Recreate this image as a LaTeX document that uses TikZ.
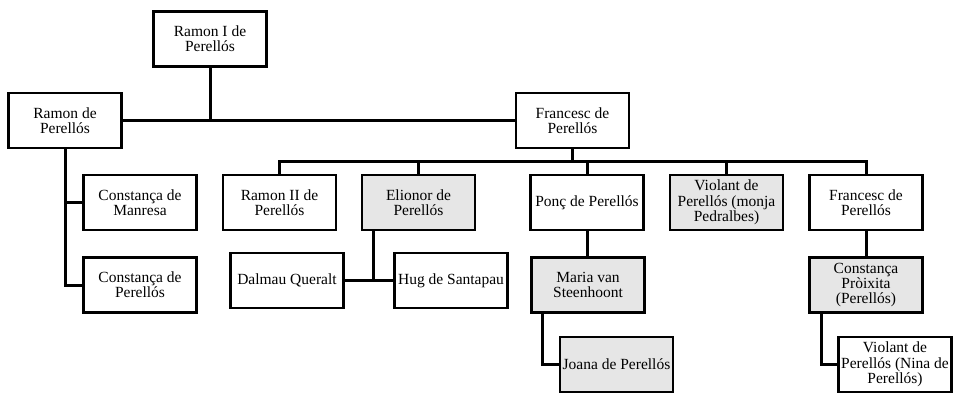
\documentclass[tikz,border=0pt]{standalone}
\usepackage{fontspec}
\setmainfont{Liberation Serif}
\newfontfamily\timesfont{Liberation Serif}
\definecolor{boxgray}{HTML}{E6E6E6}
\begin{document}
\begin{tikzpicture}[x=1pt,y=-1pt,
  pbox/.style={draw=black, fill=white, line width=2.8pt, minimum width=113pt, minimum height=55pt,
    inner sep=0pt, align=center, font=\timesfont\fontsize{15.5}{15.3}\selectfont},
  gbox/.style={pbox, fill=boxgray},
  conn/.style={draw=black, line width=3pt}]
\useasboundingbox (0,0) rectangle (955,395);
% nodes
\node[pbox] (r1) at (210,39) {Ramon I de\\Perellós};
\node[pbox] (rp) at (65,120.5) {Ramon de\\Perellós};
\node[pbox] (fp) at (572.5,120.5) {Francesc de\\Perellós};
\node[pbox] (r2) at (279.5,202.5) {Ramon II de\\Perellós};
\node[gbox] (el) at (418.5,202.5) {Elionor de\\Perellós};
\node[pbox] (po) at (587,202.5) {Ponç de Perellós};
\node[gbox] (vi) at (726.5,202.5) {Violant de\\Perellós (monja\\Pedralbes)};
\node[pbox] (f2) at (866,202.5) {Francesc de\\Perellós};
\node[pbox] (cm) at (140,202.5) {Constança de\\Manresa};
\node[pbox] (cp) at (140,285) {Constança de\\Perellós};
\node[pbox] (dq) at (287,280.5) {Dalmau Queralt};
\node[pbox] (hs) at (451,280.5) {Hug de Santapau};
\node[gbox] (mv) at (588,285) {Maria van\\Steenhoont};
\node[gbox] (jo) at (616.5,364.5) {Joana de Perellós};
\node[gbox] (cx) at (866,285) {Constança\\Pròixita\\(Perellós)};
\node[pbox] (vn) at (895,364.5) {Violant de\\Perellós (Nina de\\Perellós)};
% helper coordinates
\coordinate (bus) at (572.5,162);
\coordinate (ed) at (373,280.5);
\coordinate (mj) at (542,0);
\coordinate (cd) at (821,0);
% connectors
\draw[conn] (rp.east) -- (fp.west);
\draw[conn] (r1.south) -- (r1.south |- rp.east);
\draw[conn] (fp.south) -- (bus);
\draw[conn] (r2.north) |- (bus) -| (f2.north);
\draw[conn] (el.north) -- (el.north |- bus);
\draw[conn] (po.north) -- (po.north |- bus);
\draw[conn] (vi.north) -- (vi.north |- bus);
\draw[conn] (rp.south) |- (cp.west);
\draw[conn] (rp.south |- cm.west) -- (cm.west);
\draw[conn] (ed |- el.south) -- (ed);
\draw[conn] (dq.east) -- (hs.west);
\draw[conn] (po.south) -- (po.south |- mv.north);
\draw[conn] (mj |- mv.south) |- (jo.west);
\draw[conn] (f2.south) -- (cx.north);
\draw[conn] (cd |- cx.south) |- (vn.west);
\end{tikzpicture}
\end{document}
